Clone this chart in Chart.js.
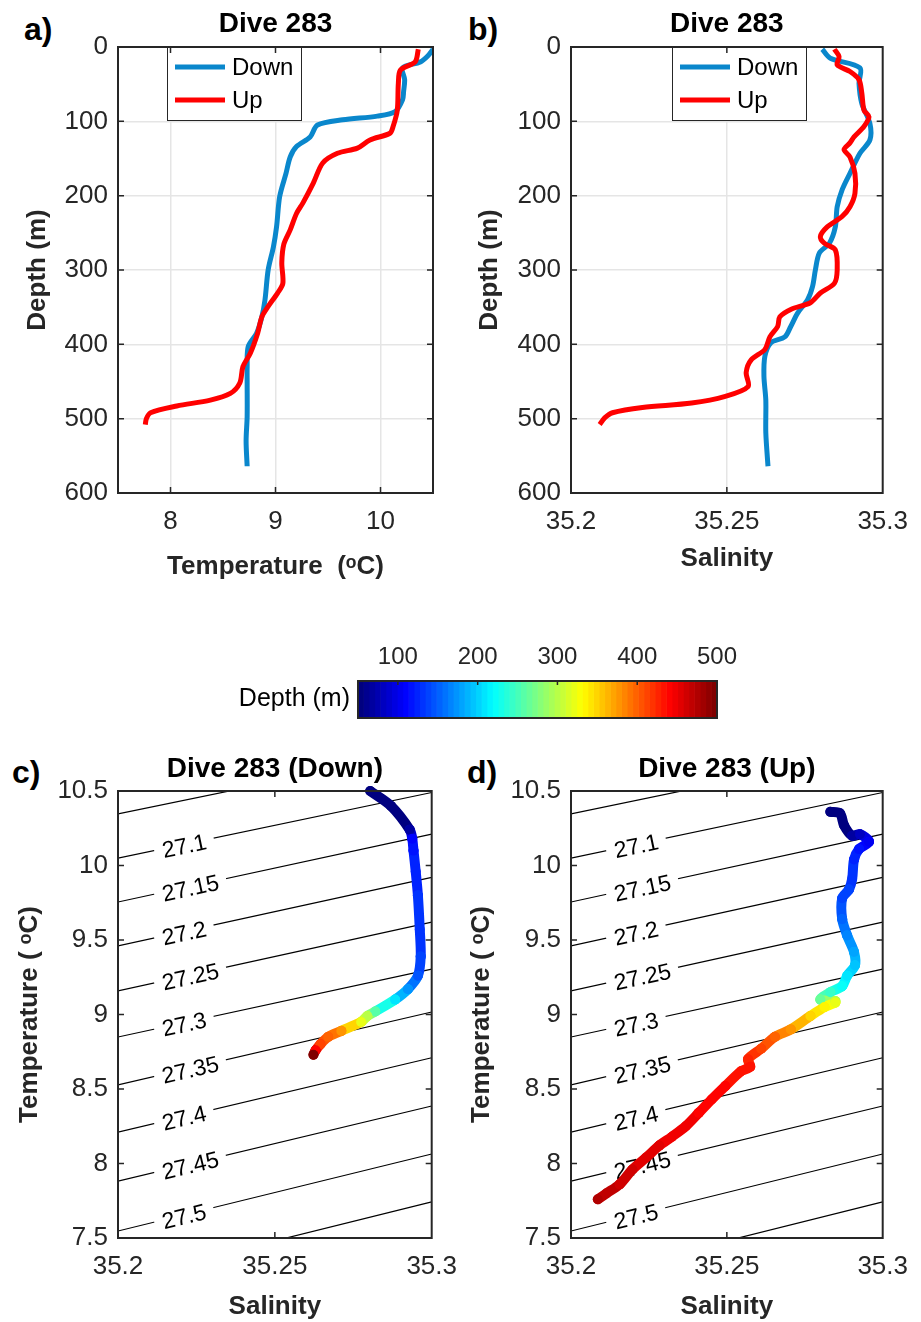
<!DOCTYPE html>
<html>
<head>
<meta charset="utf-8">
<script src="https://cdn.jsdelivr.net/npm/chart.js@4.4.1/dist/chart.umd.min.js"></script>
<style>
  html, body { margin: 0; padding: 0; background: #fff; }
  body { width: 921px; height: 1322px; position: relative; overflow: hidden; font-family: "Liberation Sans", Arial, sans-serif; }
  canvas { position: absolute; }
  .tag { position: absolute; font-weight: bold; font-size: 32px; line-height: 32px; color: #000; }
</style>
</head>
<body>
<div class="tag" style="left:24px;top:13px">a)</div>
<div class="tag" style="left:468px;top:13px">b)</div>
<div class="tag" style="left:12px;top:756px">c)</div>
<div class="tag" style="left:467px;top:756px">d)</div>

<canvas id="chartA" width="470" height="600" style="left:0;top:0"></canvas>
<canvas id="chartB" width="466" height="600" style="left:455px;top:0"></canvas>
<canvas id="colorbar" width="580" height="110" style="left:200px;top:620px"></canvas>
<canvas id="chartC" width="470" height="582" style="left:0;top:740px"></canvas>
<canvas id="chartD" width="466" height="582" style="left:455px;top:740px"></canvas>

<script>
// ---- tick values ----
const depthTicks = [0, 100, 200, 300, 400, 500, 600];
const tempTicks = [8, 9, 10];
const salTicks = [35.2, 35.25, 35.3];
const tsTempTicks = [7.5, 8, 8.5, 9, 9.5, 10, 10.5];
const cbTicks = [100, 200, 300, 400, 500];

// ---- a) temperature profiles ----
const downTempDepth = [3, 12, 20, 28, 44, 60, 71, 87, 93, 98, 105, 121, 134, 148, 170, 201, 242, 269, 300, 340, 363, 385, 403, 430, 452, 497, 530, 564];
const downTemp = [10.50, 10.45, 10.38, 10.21, 10.23, 10.22, 10.21, 10.14, 9.97, 9.64, 9.40, 9.33, 9.20, 9.14, 9.10, 9.04, 9.01, 8.98, 8.93, 8.90, 8.87, 8.82, 8.74, 8.73, 8.73, 8.73, 8.72, 8.73];
const upTempDepth = [3, 20, 31, 49, 85, 107, 116, 125, 136, 143, 156, 183, 210, 224, 246, 265, 290, 318, 331, 349, 363, 385, 412, 430, 452, 466, 475, 483, 492, 500, 508];
const upTemp = [10.36, 10.33, 10.19, 10.17, 10.16, 10.12, 10.09, 9.90, 9.78, 9.59, 9.45, 9.36, 9.26, 9.20, 9.14, 9.08, 9.06, 9.07, 9.02, 8.93, 8.87, 8.83, 8.76, 8.69, 8.66, 8.57, 8.38, 8.06, 7.81, 7.77, 7.76];

// ---- b) salinity profiles ----
const downSalDepth = [3, 15, 28, 49, 76, 103, 125, 143, 170, 192, 215, 242, 264, 277, 300, 322, 340, 358, 376, 390, 398, 416, 443, 475, 519, 564];
const downSal = [35.2806, 35.2832, 35.2927, 35.2924, 35.2933, 35.2959, 35.2959, 35.2927, 35.2895, 35.2870, 35.2854, 35.2848, 35.2829, 35.2797, 35.2784, 35.2775, 35.2759, 35.2727, 35.2705, 35.2686, 35.2641, 35.2622, 35.2619, 35.2625, 35.2625, 35.2632];
const upSalDepth = [3, 13, 24, 33, 44, 62, 85, 94, 107, 121, 129, 138, 148, 170, 197, 215, 228, 242, 255, 264, 273, 300, 318, 331, 344, 353, 363, 376, 390, 407, 421, 438, 457, 470, 479, 485, 492, 499, 508];
const upSal = [35.2845, 35.2860, 35.2854, 35.2895, 35.2924, 35.2933, 35.2940, 35.2956, 35.2940, 35.2908, 35.2895, 35.2876, 35.2895, 35.2911, 35.2911, 35.2895, 35.2870, 35.2822, 35.2800, 35.2813, 35.2848, 35.2854, 35.2845, 35.2800, 35.2768, 35.2705, 35.2670, 35.2663, 35.2638, 35.2622, 35.2578, 35.2562, 35.2568, 35.2495, 35.2387, 35.2229, 35.2133, 35.2108, 35.2092];

// ---- c) T-S, down cast ----
const tsDownSal = [35.2804, 35.2870, 35.2930, 35.2938, 35.2942, 35.2949, 35.2956, 35.2962, 35.2965, 35.2956, 35.2924, 35.2883, 35.2820, 35.2795, 35.2775, 35.2712, 35.2670, 35.2645, 35.2630, 35.2623];
const tsDownTemp = [10.50, 10.40, 10.24, 10.18, 10.10, 9.96, 9.80, 9.57, 9.39, 9.26, 9.17, 9.10, 9.02, 8.99, 8.95, 8.89, 8.85, 8.80, 8.76, 8.73];
const tsDownDepth = [5, 20, 70, 110, 120, 125, 128, 130, 135, 145, 170, 205, 260, 300, 320, 380, 395, 410, 440, 520];

// ---- d) T-S, up cast ----
const tsUpSal = [35.2832, 35.2863, 35.2876, 35.2902, 35.2927, 35.2956, 35.2924, 35.2908, 35.2902, 35.2892, 35.2870, 35.2870, 35.2886, 35.2908, 35.2911, 35.2886, 35.2870, 35.2832, 35.2800, 35.2848, 35.2848, 35.2813, 35.2768, 35.2705, 35.2654, 35.2610, 35.2568, 35.2575, 35.2546, 35.2495, 35.2451, 35.2410, 35.2368, 35.2324, 35.2283, 35.2241, 35.2197, 35.2156, 35.2114, 35.2086];
const tsUpTemp = [10.36, 10.35, 10.27, 10.20, 10.21, 10.16, 10.11, 10.04, 9.91, 9.84, 9.78, 9.64, 9.53, 9.42, 9.33, 9.26, 9.19, 9.15, 9.10, 9.09, 9.08, 9.05, 8.99, 8.90, 8.85, 8.77, 8.70, 8.65, 8.62, 8.52, 8.43, 8.34, 8.25, 8.18, 8.12, 8.04, 7.96, 7.86, 7.80, 7.76];
const tsUpDepth = [5, 15, 40, 70, 85, 100, 120, 125, 130, 135, 140, 150, 165, 180, 195, 210, 222, 240, 265, 300, 320, 335, 350, 375, 395, 415, 425, 430, 433, 437, 440, 443, 446, 449, 452, 455, 459, 463, 467, 472];

// ---- potential density contours (T at S = 35.2 and S = 35.3) ----
const sigmaLabels = ['', '27.1', '27.15', '27.2', '27.25', '27.3', '27.35', '27.4', '27.45', '27.5', ''];
const sigmaTempLeft = [10.346, 10.05, 9.755, 9.46, 9.158, 8.849, 8.527, 8.211, 7.882, 7.547, 7.22];
const sigmaTempRight = [10.78, 10.49, 10.21, 9.92, 9.62, 9.305, 9.017, 8.71, 8.386, 8.064, 7.742];

// ---- colour scale ----
const cbMin = 50;
const cbMax = 500;
const cbLevels = 64;

const downColor = '#0a87cc';
const upColor = '#ff0000';
const axisColor = '#262626';
const fontFamily = '"Liberation Sans", Arial, Helvetica, sans-serif';

Chart.defaults.font.family = fontFamily;
Chart.defaults.color = axisColor;

const fmt = (v) => String(Math.round(v * 1000) / 1000);
const pts = (xs, ys) => xs.map((x, i) => ({x: x, y: ys[i]}));

function jet(depth) {
    let f = (depth - cbMin) / (cbMax - cbMin);
    f = Math.min(Math.max(f, 0), 1);
    const k = Math.min(Math.floor(f * cbLevels), cbLevels - 1) / (cbLevels - 1);
    const c = (v) => Math.round(255 * Math.min(Math.max(v, 0), 1));
    return `rgb(${c(1.5 - Math.abs(4 * k - 3))},${c(1.5 - Math.abs(4 * k - 2))},${c(1.5 - Math.abs(4 * k - 1))})`;
}

// box round the plot area, with inward ticks
const framePlugin = {
    id: 'frame',
    afterDatasetsDraw(chart, args, opts) {
        const {ctx, chartArea: a} = chart;
        const sides = opts.sides || ['top', 'bottom', 'left', 'right'];
        const len = opts.tickLength || 6;
        ctx.save();
        ctx.strokeStyle = axisColor;
        ctx.lineWidth = 1.5;
        ctx.beginPath();
        const xs = chart.scales.x;
        xs.ticks.forEach(t => {
            const px = xs.getPixelForValue(t.value);
            if (px <= a.left + 1 || px >= a.right - 1) return;
            if (sides.includes('bottom')) { ctx.moveTo(px, a.bottom); ctx.lineTo(px, a.bottom - len); }
            if (sides.includes('top')) { ctx.moveTo(px, a.top); ctx.lineTo(px, a.top + len); }
        });
        if (sides.includes('left')) {
            const ys = chart.scales.y;
            ys.ticks.forEach(t => {
                const py = ys.getPixelForValue(t.value);
                if (py <= a.top + 1 || py >= a.bottom - 1) return;
                ctx.moveTo(a.left, py); ctx.lineTo(a.left + len, py);
                ctx.moveTo(a.right, py); ctx.lineTo(a.right - len, py);
            });
        }
        ctx.stroke();
        ctx.lineWidth = 2;
        ctx.strokeRect(a.left, a.top, a.right - a.left, a.bottom - a.top);
        ctx.restore();
    }
};

// legend in a framed box inside the plot
const legendBoxPlugin = {
    id: 'legendBox',
    afterDatasetsDraw(chart, args, opts) {
        if (!opts.display) return;
        const {ctx, chartArea: a} = chart;
        const x = a.left + opts.left;
        const y = a.top;
        ctx.save();
        ctx.fillStyle = '#fff';
        ctx.fillRect(x, y, opts.width, opts.height);
        ctx.strokeStyle = axisColor;
        ctx.lineWidth = 1;
        ctx.strokeRect(x + 0.5, y + 0.5, opts.width, opts.height);
        chart.data.datasets.forEach((ds, i) => {
            const ly = y + 20 + i * 33;
            ctx.strokeStyle = ds.borderColor;
            ctx.lineWidth = ds.borderWidth;
            ctx.beginPath();
            ctx.moveTo(x + 8, ly);
            ctx.lineTo(x + 58, ly);
            ctx.stroke();
            ctx.fillStyle = '#000';
            ctx.font = '24px ' + fontFamily;
            ctx.textBaseline = 'middle';
            ctx.fillText(ds.label, x + 65, ly + 1);
        });
        ctx.restore();
    }
};

// inline labels on the density contours
const isoLabelPlugin = {
    id: 'isoLabels',
    beforeDatasetDraw(chart, args, opts) {
        if (args.index !== 0) return;
        const {ctx, chartArea: a} = chart;
        ctx.save();
        ctx.beginPath();
        ctx.rect(a.left, a.top, a.right - a.left, a.bottom - a.top);
        ctx.clip();
        ctx.font = '23px ' + fontFamily;
        chart.data.datasets.forEach((ds, i) => {
            if (i === 0 || !ds.label) return;
            const [p0, p1] = chart.getDatasetMeta(i).data;
            const ang = Math.atan2(p1.y - p0.y, p1.x - p0.x);
            const x = a.left + opts.offset;
            const y = p0.y + (x - p0.x) * Math.tan(ang);
            const w = ctx.measureText(ds.label).width;
            ctx.save();
            ctx.translate(x, y);
            ctx.rotate(ang);
            ctx.fillStyle = '#fff';
            ctx.fillRect(-8, -9, w + 16, 18);
            ctx.fillStyle = '#000';
            ctx.textBaseline = 'middle';
            ctx.fillText(ds.label, 0, 3);
            ctx.restore();
        });
        ctx.restore();
    }
};

function setTicks(values) {
    return (scale) => { scale.ticks = values.map(v => ({value: v})); };
}

function profileChart(id, cfg) {
    return new Chart(document.getElementById(id), {
        type: 'line',
        data: {
            datasets: [
                {
                    label: 'Down',
                    data: cfg.down,
                    borderColor: downColor,
                    borderWidth: 5,
                    order: 1,
                },
                {
                    label: 'Up',
                    data: cfg.up,
                    borderColor: upColor,
                    borderWidth: 5,
                    order: 0,
                },
            ],
        },
        options: {
            responsive: false,
            animation: false,
            devicePixelRatio: 1,
            layout: {
                padding: {right: cfg.padRight},
            },
            elements: {
                point: {radius: 0},
                line: {tension: 0.3, borderCapStyle: 'butt', borderJoinStyle: 'round'},
            },
            scales: {
                x: {
                    type: 'linear',
                    min: cfg.xMin,
                    max: cfg.xMax,
                    afterBuildTicks: setTicks(cfg.xTicks),
                    afterFit: (s) => { s.height = 107; },
                    border: {display: false},
                    grid: {color: '#e5e5e5', lineWidth: 1.5, drawTicks: false},
                    ticks: {
                        font: {size: 26},
                        color: axisColor,
                        padding: 13,
                        maxRotation: 0,
                        callback: (v) => fmt(v),
                    },
                    title: {
                        display: true,
                        text: cfg.xTitle,
                        font: {size: 26, weight: 'bold'},
                        color: axisColor,
                        padding: {bottom: cfg.xTitlePad},
                    },
                },
                y: {
                    type: 'linear',
                    reverse: true,
                    min: 0,
                    max: 600,
                    afterBuildTicks: setTicks(depthTicks),
                    afterFit: (s) => { s.width = cfg.yWidth; },
                    border: {display: false},
                    grid: {color: '#e5e5e5', lineWidth: 1.5, drawTicks: false},
                    ticks: {
                        font: {size: 26},
                        color: axisColor,
                        padding: 10,
                        callback: (v) => fmt(v),
                    },
                    title: {
                        display: true,
                        text: 'Depth (m)',
                        font: {size: 26, weight: 'bold'},
                        color: axisColor,
                        padding: {top: cfg.yTitlePad},
                    },
                },
            },
            plugins: {
                legend: {display: false},
                tooltip: {enabled: false},
                title: {
                    display: true,
                    fullSize: false,
                    text: 'Dive 283',
                    font: {size: 28, weight: 'bold'},
                    color: '#000',
                    padding: {top: 7, bottom: 6.4},
                },
                legendBox: {display: true, left: cfg.legendLeft, width: 134, height: 73},
                frame: {tickLength: 6},
            },
        },
        plugins: [legendBoxPlugin, framePlugin],
    });
}

function tsChart(id, cfg) {
    const depth = cfg.depth;
    const isolines = sigmaLabels.map((lab, i) => ({
        label: lab,
        data: [{x: 35.2, y: sigmaTempLeft[i]}, {x: 35.3, y: sigmaTempRight[i]}],
        borderColor: '#000',
        borderWidth: 1.2,
        pointRadius: 0,
        tension: 0,
        order: 1,
    }));
    return new Chart(document.getElementById(id), {
        type: 'line',
        data: {
            datasets: [
                {
                    label: 'T-S',
                    data: pts(cfg.sal, cfg.temp),
                    borderWidth: 10,
                    tension: 0.3,
                    borderCapStyle: 'round',
                    borderJoinStyle: 'round',
                    pointRadius: 5,
                    pointBorderWidth: 0,
                    pointBackgroundColor: depth.map(jet),
                    segment: {
                        borderColor: (c) => jet((depth[c.p0DataIndex] + depth[c.p1DataIndex]) / 2),
                    },
                    clip: 8,
                    order: 0,
                },
                ...isolines,
            ],
        },
        options: {
            responsive: false,
            animation: false,
            devicePixelRatio: 1,
            layout: {
                padding: {right: cfg.padRight},
            },
            scales: {
                x: {
                    type: 'linear',
                    min: 35.2,
                    max: 35.3,
                    afterBuildTicks: setTicks(salTicks),
                    afterFit: (s) => { s.height = 84; },
                    border: {display: false},
                    grid: {display: false, drawTicks: false},
                    ticks: {
                        font: {size: 26},
                        color: axisColor,
                        padding: 13,
                        maxRotation: 0,
                        callback: (v) => fmt(v),
                    },
                    title: {
                        display: true,
                        text: 'Salinity',
                        font: {size: 26, weight: 'bold'},
                        color: axisColor,
                        padding: {bottom: 0},
                    },
                },
                y: {
                    type: 'linear',
                    min: 7.5,
                    max: 10.5,
                    afterBuildTicks: setTicks(tsTempTicks),
                    afterFit: (s) => { s.width = cfg.yWidth; },
                    border: {display: false},
                    grid: {display: false, drawTicks: false},
                    ticks: {
                        font: {size: 26},
                        color: axisColor,
                        padding: 10,
                        callback: (v) => fmt(v),
                    },
                    title: {
                        display: true,
                        text: 'Temperature ( ᵒC)',
                        font: {size: 26, weight: 'bold'},
                        color: axisColor,
                        padding: {top: cfg.yTitlePad},
                    },
                },
            },
            plugins: {
                legend: {display: false},
                tooltip: {enabled: false},
                title: {
                    display: true,
                    fullSize: false,
                    text: cfg.title,
                    font: {size: 28, weight: 'bold'},
                    color: '#000',
                    padding: {top: 12, bottom: 5.4},
                },
                isoLabels: {offset: cfg.labelOffset},
                frame: {tickLength: 6},
            },
        },
        plugins: [isoLabelPlugin, framePlugin],
    });
}

profileChart('chartA', {
    down: pts(downTemp, downTempDepth),
    up: pts(upTemp, upTempDepth),
    xMin: 7.5,
    xMax: 10.5,
    xTicks: tempTicks,
    xTitle: 'Temperature  (ᵒC)',
    xTitlePad: 18,
    yWidth: 118,
    yTitlePad: 22,
    padRight: 37,
    legendLeft: 49,
});

profileChart('chartB', {
    down: pts(downSal, downSalDepth),
    up: pts(upSal, upSalDepth),
    xMin: 35.2,
    xMax: 35.3,
    xTicks: salTicks,
    xTitle: 'Salinity',
    xTitlePad: 26,
    yWidth: 116,
    yTitlePad: 19,
    padRight: 35,
    legendLeft: 101,
});

tsChart('chartC', {
    sal: tsDownSal,
    temp: tsDownTemp,
    depth: tsDownDepth,
    title: 'Dive 283 (Down)',
    yWidth: 118,
    yTitlePad: 14,
    padRight: 36,
    labelOffset: 44,
});

tsChart('chartD', {
    sal: tsUpSal,
    temp: tsUpTemp,
    depth: tsUpDepth,
    title: 'Dive 283 (Up)',
    yWidth: 116,
    yTitlePad: 11,
    padRight: 35,
    labelOffset: 43,
});

// colour bar: one floating bar per colour level
const cbStep = (cbMax - cbMin) / cbLevels;
const cbDatasets = [];
for (let i = 0; i < cbLevels; i++) {
    cbDatasets.push({
        data: [[cbMin + i * cbStep, cbMin + (i + 1) * cbStep]],
        backgroundColor: jet(cbMin + (i + 0.5) * cbStep),
        borderWidth: 0,
        grouped: false,
        barPercentage: 1,
        categoryPercentage: 1,
    });
}

new Chart(document.getElementById('colorbar'), {
    type: 'bar',
    data: {
        labels: ['Depth (m)'],
        datasets: cbDatasets,
    },
    options: {
        indexAxis: 'y',
        responsive: false,
        animation: false,
        devicePixelRatio: 1,
        layout: {
            padding: {right: 63, bottom: 12},
        },
        scales: {
            x: {
                type: 'linear',
                position: 'top',
                min: cbMin,
                max: cbMax,
                afterBuildTicks: setTicks(cbTicks),
                afterFit: (s) => { s.height = 61; },
                border: {display: false},
                grid: {display: false, drawTicks: false},
                ticks: {
                    font: {size: 24},
                    color: axisColor,
                    padding: 9,
                    maxRotation: 0,
                },
            },
            y: {
                afterFit: (s) => {
                    s.width = 158;
                    s.paddingTop = 0;
                    s.paddingBottom = 0;
                },
                border: {display: false},
                grid: {display: false, drawTicks: false},
                ticks: {
                    font: {size: 25},
                    color: '#000',
                    padding: 8,
                },
            },
        },
        plugins: {
            legend: {display: false},
            tooltip: {enabled: false},
            frame: {sides: ['top'], tickLength: 4},
        },
    },
    plugins: [framePlugin],
});
</script>
</body>
</html>
